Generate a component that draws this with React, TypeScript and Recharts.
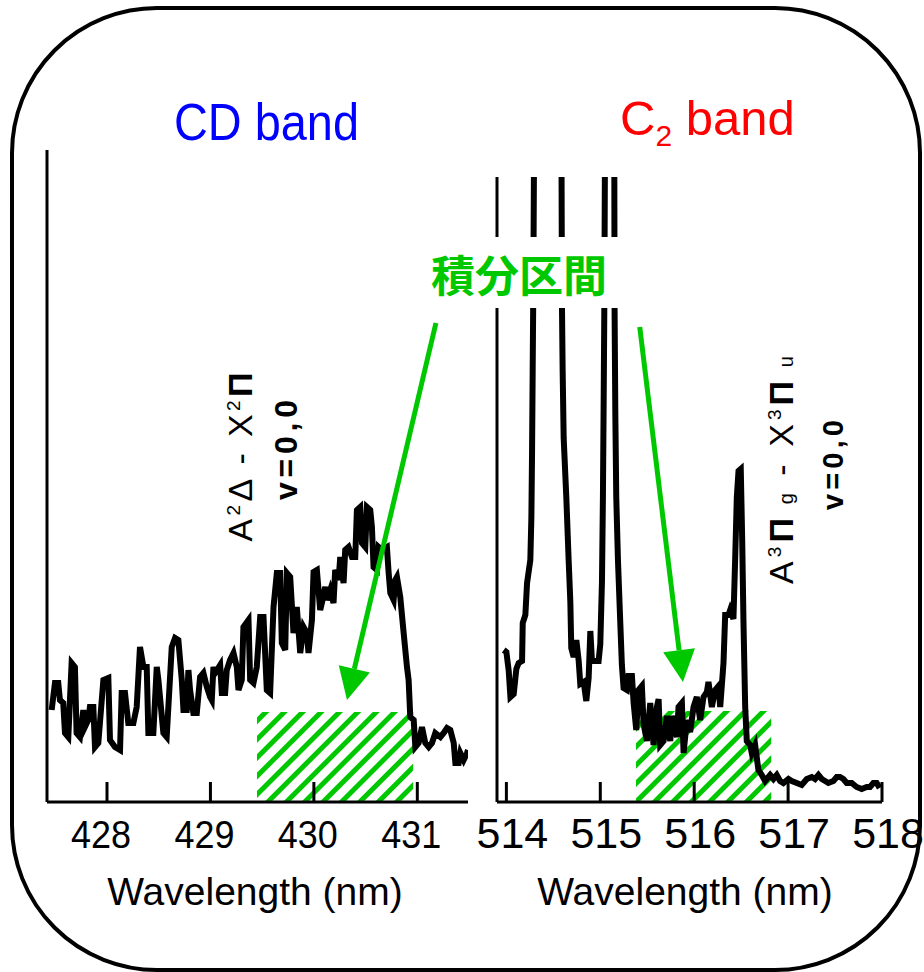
import React from "react";
import { LineChart, Line, XAxis, YAxis, ReferenceArea, ReferenceLine } from "recharts";

const FONT = "'Liberation Sans', Arial, Helvetica, sans-serif";
const GREEN = "#00c800";

// CD band (A2Δ - X2Π), wavelength in nm, intensity in arbitrary units
const cdWavelength = [
  427.465, 427.497, 427.529, 427.545, 427.577, 427.594, 427.626, 427.658, 427.69, 427.706,
  427.739, 427.771, 427.787, 427.819, 427.835, 427.868, 427.884, 427.916, 427.965, 428.013,
  428.029, 428.077, 428.126, 428.142, 428.174, 428.206, 428.255, 428.287, 428.319, 428.352,
  428.384, 428.4, 428.448, 428.481, 428.497, 428.545, 428.577, 428.626, 428.658, 428.69,
  428.723, 428.739, 428.771, 428.787, 428.803, 428.835, 428.868, 428.9, 428.932, 428.965,
  428.997, 429.013, 429.029, 429.045, 429.094, 429.11, 429.142, 429.158, 429.19, 429.223,
  429.255, 429.271, 429.303, 429.319, 429.368, 429.384, 429.416, 429.448, 429.481, 429.513,
  429.545, 429.577, 429.61, 429.642, 429.674, 429.69, 429.723, 429.739, 429.771, 429.803,
  429.835, 429.868, 429.9, 429.932, 429.948, 429.981, 429.997, 430.029, 430.061, 430.077,
  430.11, 430.126, 430.158, 430.19, 430.206, 430.239, 430.255, 430.287, 430.303, 430.335,
  430.368, 430.4, 430.416, 430.448, 430.465, 430.497, 430.513, 430.545, 430.561, 430.577,
  430.61, 430.626, 430.658, 430.706, 430.723, 430.739, 430.771, 430.787, 430.803, 430.835,
  430.868, 430.9, 430.916, 430.932, 430.965, 430.981, 431.013, 431.045, 431.077, 431.11,
  431.142, 431.174, 431.223, 431.255, 431.287, 431.319, 431.352, 431.368, 431.4, 431.416,
  431.448, 431.481, 431.49,
];
const cdIntensity = [
  92, 119, 119, 102, 99, 69, 65, 139, 135, 69,
  65, 92, 75, 82, 95, 95, 55, 59, 122, 124,
  62, 55, 52, 109, 109, 79, 79, 95, 155, 135,
  135, 69, 69, 135, 122, 69, 65, 155, 164, 162,
  122, 92, 92, 132, 112, 89, 89, 125, 129, 115,
  105, 102, 135, 129, 137, 109, 109, 132, 142, 149,
  135, 112, 122, 175, 182, 122, 119, 135, 185, 185,
  112, 109, 195, 229, 229, 159, 152, 229, 225, 169,
  195, 149, 175, 169, 149, 182, 230, 232, 192, 199,
  215, 202, 212, 199, 232, 222, 245, 219, 252, 255,
  245, 245, 292, 295, 259, 255, 295, 292, 275, 235,
  232, 255, 252, 255, 229, 209, 202, 222, 225, 205,
  169, 135, 122, 85, 82, 55, 59, 75, 59, 55,
  59, 69, 65, 69, 74, 72, 59, 39, 39, 49,
  42, 49, 52,
];

// C2 Swan band (A3Πg - X3Πu); the two band heads run off the top of the frame
const c2Wavelength = [
  513.972, 514.0, 514.025, 514.043, 514.078, 514.106, 514.131, 514.167, 514.174, 514.202,
  514.22, 514.255, 514.266, 514.273, 514.28, 514.287, 514.294, 514.33, 514.45, 514.585,
  514.592, 514.599, 514.61, 514.638, 514.663, 514.681, 514.691, 514.716, 514.745, 514.77,
  514.787, 514.823, 514.851, 514.876, 514.894, 514.911, 514.982, 515.0, 515.018, 515.028,
  515.035, 515.043, 515.05, 515.07, 515.1, 515.149, 515.152, 515.16, 515.17, 515.188,
  515.213, 515.23, 515.248, 515.284, 515.301, 515.337, 515.355, 515.383, 515.408, 515.443,
  515.461, 515.496, 515.532, 515.567, 515.603, 515.621, 515.638, 515.674, 515.709, 515.745,
  515.762, 515.816, 515.833, 515.869, 515.887, 515.922, 515.957, 515.993, 516.028, 516.064,
  516.099, 516.135, 516.152, 516.188, 516.223, 516.259, 516.277, 516.312, 516.33, 516.365,
  516.383, 516.418, 516.436, 516.454, 516.472, 516.496, 516.511, 516.525, 516.543, 516.56,
  516.596, 516.613, 516.649, 516.667, 516.684, 516.72, 516.755, 516.809, 516.844, 516.879,
  516.915, 516.95, 517.004, 517.039, 517.092, 517.145, 517.199, 517.252, 517.287, 517.323,
  517.358, 517.394, 517.429, 517.482, 517.518, 517.553, 517.589, 517.624, 517.677, 517.73,
  517.784, 517.837, 517.872, 517.908, 517.943, 517.975,
];
const c2Intensity = [
  152, 150, 131, 105, 108, 133, 139, 141, 179, 187,
  219, 242, 284, 347, 432, 516, 642, 950, 980, 700,
  495, 432, 364, 305, 242, 200, 154, 145, 162, 141,
  118, 120, 101, 124, 171, 141, 141, 158, 221, 305,
  389, 495, 660, 950, 950, 660, 495, 389, 305, 242,
  179, 137, 114, 112, 126, 126, 99, 72, 112, 116,
  78, 61, 99, 57, 95, 103, 57, 61, 86, 61,
  86, 65, 95, 99, 49, 82, 70, 95, 105, 82,
  105, 110, 120, 95, 112, 116, 95, 139, 187, 187,
  192, 183, 242, 305, 331, 333, 263, 179, 95, 61,
  57, 49, 57, 44, 32, 27, 21, 27, 23, 27,
  21, 19, 23, 21, 19, 17, 23, 25, 23, 27,
  23, 21, 19, 21, 25, 25, 23, 19, 19, 15,
  13, 15, 15, 19, 19, 14,
];

const cdTicks = [428, 429, 430, 431];
const c2Ticks = [514, 515, 516, 517, 518];

// integration windows [start, end] in nm and their height
const cdWindow = [429.45, 430.96];
const c2Window = [515.38, 516.82];
const windowTop = [90, 91];

// arrow from the 積分区間 label down to each window: [x, y] start, [x, y] tip
const cdArrow = [[431.18, 479], [430.32, 102]];
const c2Arrow = [[515.42, 475], [515.88, 120]];

const cdData = cdWavelength.map((x, i) => ({ x, y: cdIntensity[i] }));
const c2Data = c2Wavelength.map((x, i) => ({ x, y: c2Intensity[i] }));

const axisLine = { stroke: "#000", strokeWidth: 3 };

function makeTick(fontSize: number, dx: number, textLength?: number) {
  return (props: any) => {
    const { x, y, payload } = props;
    return (
      <g>
        <line x1={x} x2={x} y1={y - 20} y2={y} stroke="#000" strokeWidth={3} />
        <text
          x={x + dx}
          y={y + 46}
          textAnchor="middle"
          fontSize={fontSize}
          fontFamily={FONT}
          fill="#000"
          textLength={textLength}
          lengthAdjust="spacingAndGlyphs"
        >
          {payload.value}
        </text>
      </g>
    );
  };
}

function arrowShape(props: any) {
  const { x1, y1, x2, y2 } = props;
  const dx = x2 - x1;
  const dy = y2 - y1;
  const len = Math.hypot(dx, dy) || 1;
  const ux = dx / len;
  const uy = dy / len;
  const bx = x2 - ux * 32;
  const by = y2 - uy * 32;
  const pts = `${x2},${y2} ${bx - uy * 16},${by + ux * 16} ${bx + uy * 16},${by - ux * 16}`;
  return (
    <g>
      <line x1={x1} y1={y1} x2={bx} y2={by} stroke={GREEN} strokeWidth={5} />
      <polygon points={pts} fill={GREEN} />
    </g>
  );
}

function Hatch({ id }: { id: string }) {
  return (
    <defs>
      <pattern id={id} patternUnits="userSpaceOnUse" width={13} height={13} patternTransform="rotate(45)">
        <rect x={0} y={0} width={5} height={13} fill={GREEN} />
      </pattern>
    </defs>
  );
}

export default function App() {
  return (
    <div style={{ position: "absolute", left: 0, top: 0, width: 924, height: 972, background: "#fff" }}>
      <div style={{ position: "absolute", left: 0, top: 0 }}>
        <LineChart width={480} height={972} data={cdData} margin={{ top: 150, right: 12, bottom: 50, left: 37 }}>
          <Hatch id="hatchCD" />
          <XAxis
            type="number"
            dataKey="x"
            domain={[427.42, 431.49]}
            allowDataOverflow
            ticks={cdTicks}
            interval={0}
            tick={makeTick(39, -6, 60)}
            tickLine={false}
            tickSize={0}
            tickMargin={0}
            height={120}
            axisLine={axisLine}
          />
          <YAxis type="number" domain={[0, 652]} allowDataOverflow tick={false} tickLine={false} width={10} axisLine={axisLine} />
          <ReferenceArea
            x1={cdWindow[0]}
            x2={cdWindow[1]}
            y1={0}
            y2={windowTop[0]}
            fill="url(#hatchCD)"
            fillOpacity={1}
            stroke="none"
          />
          <Line type="linear" dataKey="y" stroke="#000" strokeWidth={6} dot={false} isAnimationActive={false} />
          <ReferenceLine
            segment={[
              { x: cdArrow[0][0], y: cdArrow[0][1] },
              { x: cdArrow[1][0], y: cdArrow[1][1] },
            ]}
            shape={arrowShape}
          />
        </LineChart>
      </div>

      <div style={{ position: "absolute", left: 460, top: 0 }}>
        <LineChart width={464} height={972} data={c2Data} margin={{ top: 177, right: 42, bottom: 50, left: 27 }}>
          <Hatch id="hatchC2" />
          <XAxis
            type="number"
            dataKey="x"
            domain={[513.9, 518]}
            allowDataOverflow
            ticks={c2Ticks}
            interval={0}
            tick={makeTick(43, 6)}
            tickLine={false}
            tickSize={0}
            tickMargin={0}
            height={120}
            axisLine={axisLine}
          />
          <YAxis type="number" domain={[0, 625]} allowDataOverflow tick={false} tickLine={false} width={10} axisLine={axisLine} />
          <ReferenceArea
            x1={c2Window[0]}
            x2={c2Window[1]}
            y1={0}
            y2={windowTop[1]}
            fill="url(#hatchC2)"
            fillOpacity={1}
            stroke="none"
          />
          <Line type="linear" dataKey="y" stroke="#000" strokeWidth={6} dot={false} isAnimationActive={false} />
          <ReferenceLine
            segment={[
              { x: c2Arrow[0][0], y: c2Arrow[0][1] },
              { x: c2Arrow[1][0], y: c2Arrow[1][1] },
            ]}
            shape={arrowShape}
          />
        </LineChart>
      </div>

      <svg
        width={924}
        height={972}
        style={{ position: "absolute", left: 0, top: 0, pointerEvents: "none" }}
        fontFamily={FONT}
      >
        <rect x={12} y={8} width={908} height={962} rx={145} ry={145} fill="none" stroke="#000" strokeWidth={4} />

        <text x={174} y={140} fill="#0000ff" fontSize={52} textLength={185} lengthAdjust="spacingAndGlyphs">
          CD band
        </text>
        <text x={620} y={135} fill="#ff0000" fontSize={49}>
          C
          <tspan fontSize={30} dy={11}>2</tspan>
          <tspan dy={-11}> band</tspan>
        </text>

        <rect x={428} y={237} width={194} height={71} fill="#fff" />
        <text
          x={431}
          y={292}
          fill={GREEN}
          fontSize={43}
          fontWeight="bold"
          fontFamily="'Noto Sans CJK JP', 'Noto Sans CJK SC', sans-serif"
          textLength={176}
          lengthAdjust="spacingAndGlyphs"
        >
          積分区間
        </text>

        <text transform="translate(252,457) rotate(-90)" textAnchor="middle" fontSize={34} textLength={169} lengthAdjust="spacing">
          A<tspan fontSize={19} dy={-12}>2</tspan>
          <tspan dy={12}>Δ - X</tspan>
          <tspan fontSize={19} dy={-12}>2</tspan>
          <tspan dy={12} fontWeight="bold">Π</tspan>
        </text>
        <text transform="translate(297,450) rotate(-90)" textAnchor="middle" fontSize={32} fontWeight="bold" textLength={100} lengthAdjust="spacing">
          v=0,0
        </text>

        <text transform="translate(793,470) rotate(-90)" textAnchor="middle" fontSize={34} textLength={228} lengthAdjust="spacing">
          A<tspan fontSize={19} dy={-12}>3</tspan>
          <tspan dy={12} fontWeight="bold">Π</tspan>
          <tspan fontSize={20}> g</tspan>
          <tspan> - X</tspan>
          <tspan fontSize={19} dy={-12}>3</tspan>
          <tspan dy={12} fontWeight="bold">Π</tspan>
          <tspan fontSize={20}> u</tspan>
        </text>
        <text transform="translate(843,465) rotate(-90)" textAnchor="middle" fontSize={29} fontWeight="bold" textLength={90} lengthAdjust="spacing">
          v=0,0
        </text>

        <text x={255} y={905} textAnchor="middle" fontSize={39}>
          Wavelength (nm)
        </text>
        <text x={685} y={905} textAnchor="middle" fontSize={39}>
          Wavelength (nm)
        </text>
      </svg>
    </div>
  );
}
